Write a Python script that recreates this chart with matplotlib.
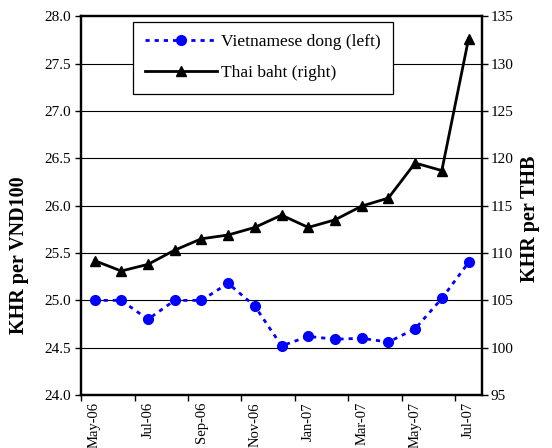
import matplotlib
matplotlib.use("Agg")
import matplotlib.pyplot as plt
from matplotlib.lines import Line2D

plt.rcParams['font.family'] = ['Liberation Serif', 'DejaVu Serif']

# 月份与数据
months = ['May-06', 'Jun-06', 'Jul-06', 'Aug-06', 'Sep-06', 'Oct-06', 'Nov-06', 'Dec-06',
          'Jan-07', 'Feb-07', 'Mar-07', 'Apr-07', 'May-07', 'Jun-07', 'Jul-07']
vnd = [25.00, 25.00, 24.80, 25.00, 25.00, 25.18, 24.94, 24.52,
       24.62, 24.59, 24.60, 24.56, 24.70, 25.02, 25.40]
thb = [109.2, 108.1, 108.8, 110.3, 111.5, 111.9, 112.7, 114.0,
       112.7, 113.5, 114.95, 115.8, 119.5, 118.7, 132.6]

left_ticks = [24.0, 24.5, 25.0, 25.5, 26.0, 26.5, 27.0, 27.5, 28.0]
right_ticks = [95, 100, 105, 110, 115, 120, 125, 130, 135]

fig = plt.figure(figsize=(5.52, 4.48), dpi=100)
ax = fig.add_axes([0.147, 0.118, 0.726, 0.846])
ax2 = ax.twinx()

x = list(range(len(months)))

# 网格线
for v in left_ticks[1:-1]:
    ax.axhline(v, color='black', lw=0.8, zorder=0)

ax.plot(x, vnd, color='#0000FF', lw=2, linestyle=(0, (1.5, 1.8)),
        marker='o', markersize=7, markeredgecolor='#0000FF', zorder=3)
ax2.plot(x, thb, color='black', lw=2, marker='^', markersize=7, zorder=3)

ax.set_xlim(-0.5, len(months) - 0.5)
ax.set_ylim(24.0, 28.0)
ax2.set_ylim(95, 135)
ax.set_yticks(left_ticks)
ax.set_yticklabels([f'{v:.1f}' for v in left_ticks])
ax2.set_yticks(right_ticks)

# x轴：刻度在类别边界，标签在类别中心
ax.set_xticks([i - 0.5 for i in range(0, len(months), 2)])
ax.set_xticklabels([])
ax.set_xticks(list(range(0, len(months), 2)), minor=True)
ax.set_xticklabels(months[::2], minor=True, rotation=90, fontsize=10.5)
ax.tick_params(axis='x', which='minor', length=0, pad=5)
ax.tick_params(axis='x', which='major', direction='out', length=4, width=1)
ax.tick_params(axis='y', direction='out', length=4, width=1, labelsize=11, pad=3)
ax2.tick_params(axis='y', direction='out', length=4, width=1, labelsize=11, pad=2)

for a in (ax, ax2):
    for s in a.spines.values():
        s.set_linewidth(1.6)

ax.set_ylabel('KHR per VND100', fontsize=14.5, fontweight='bold')
ax.yaxis.set_label_coords(-0.13, 0.37)
ax2.set_ylabel('KHR per THB', fontsize=14.5, fontweight='bold', rotation=90)
ax2.yaxis.set_label_coords(1.095, 0.465)

handles = [
    Line2D([], [], color='#0000FF', lw=2, linestyle=(0, (1.5, 1.8)), marker='o',
           markersize=7, label='Vietnamese dong (left)'),
    Line2D([], [], color='black', lw=2, marker='^', markersize=7, label='Thai baht (right)'),
]
leg = ax2.legend(handles=handles, loc='upper left', bbox_to_anchor=(0.13, 0.984),
                 borderaxespad=0, fontsize=12.5, handlelength=4.1, handletextpad=0.25,
                 labelspacing=0.85, borderpad=0.7, fancybox=False, framealpha=1,
                 edgecolor='black')
leg.get_frame().set_linewidth(0.9)

fig.savefig('out.png', dpi=100)
